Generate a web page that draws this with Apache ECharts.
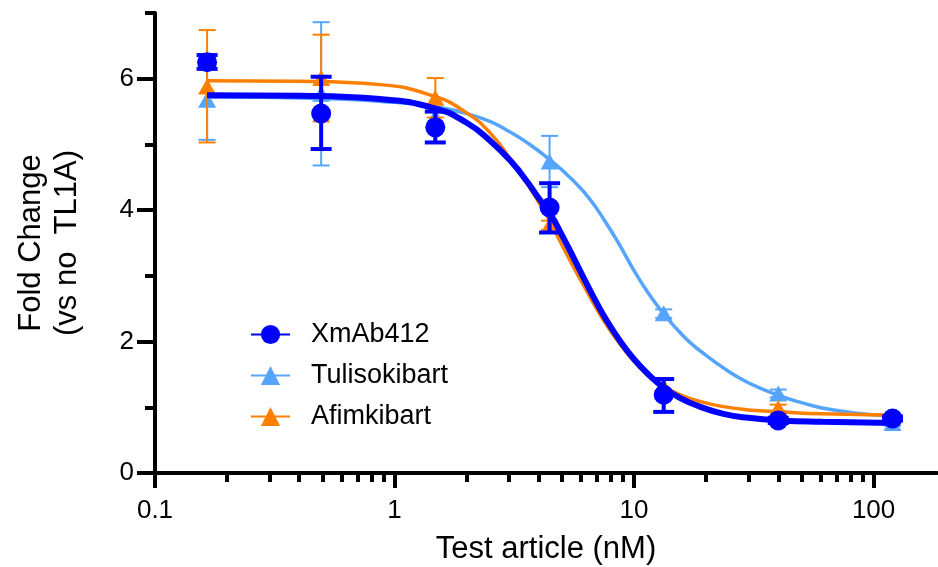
<!DOCTYPE html>
<html>
<head>
<meta charset="utf-8">
<script src="https://cdn.jsdelivr.net/npm/echarts@6/dist/echarts.min.js"></script>
<style>
html,body{margin:0;padding:0;background:#fff;}
#chart{width:938px;height:567px;}
</style>
</head>
<body>
<div id="chart"></div>
<script>
// ---- data ----
const seriesNames = ['XmAb412', 'Tulisokibart', 'Afimkibart'];
const conc = [0.165, 0.494, 1.48, 4.44, 13.3, 40, 120];

const xmabMean = [6.25, 5.47, 5.26, 4.04, 1.19, 0.80, 0.83];
const xmabLow  = [6.15, 4.93, 5.03, 3.66, 0.93, 0.76, 0.80];
const xmabHigh = [6.36, 6.03, 5.50, 4.41, 1.43, 0.84, 0.86];

const tuliMean = [5.68, 5.77, 5.42, 4.74, 2.43, 1.21, 0.76];
const tuliLow  = [5.07, 4.68, 5.32, 4.35, 2.36, 1.15, 0.72];
const tuliHigh = [6.29, 6.86, 5.52, 5.13, 2.49, 1.27, 0.80];

const afimMean = [5.88, 6.01, 5.71, 3.77, 1.32, 0.99, 0.86];
const afimLow  = [5.03, 5.35, 5.41, 3.70, 1.22, 0.94, 0.82];
const afimHigh = [6.74, 6.67, 6.01, 3.84, 1.42, 1.04, 0.90];

// fitted curves
const curveConcA = [0.165, 0.4, 0.87, 1.47, 2.0, 2.5, 3.1, 3.6, 4.0, 4.44, 5.0, 5.6, 6.3, 7.0, 7.6, 8.7, 10, 11.7, 13.3, 15.6, 18.8, 23.6, 30, 40.9, 61, 120];
const xmabCurve = [5.75, 5.74, 5.69, 5.55, 5.33, 5.06, 4.72, 4.42, 4.18, 3.96, 3.62, 3.27, 2.90, 2.58, 2.35, 2.02, 1.73, 1.47, 1.30, 1.14, 1.01, 0.90, 0.84, 0.80, 0.78, 0.76];
const afimCurve = [5.97, 5.96, 5.91, 5.73, 5.48, 5.18, 4.74, 4.39, 4.12, 3.84, 3.47, 3.13, 2.79, 2.49, 2.28, 1.97, 1.70, 1.47, 1.32, 1.19, 1.09, 1.01, 0.96, 0.93, 0.90, 0.88];
const curveConcB = [0.165, 0.5, 1.0, 1.5, 2.0, 2.5, 3.0, 3.6, 4.44, 5.5, 6.5, 7.6, 8.7, 10, 11.5, 13.3, 15, 17.2, 20, 23.6, 28, 32.7, 40.9, 50, 61, 85, 120];
const tuliCurve = [5.72, 5.70, 5.64, 5.57, 5.47, 5.35, 5.20, 5.02, 4.77, 4.47, 4.18, 3.82, 3.47, 3.08, 2.73, 2.42, 2.20, 1.98, 1.79, 1.60, 1.43, 1.31, 1.17, 1.07, 0.99, 0.91, 0.87];

const xMajorTicks = [0.1, 1, 10, 100];
const xMinorTicks = [0.2,0.3,0.4,0.5,0.6,0.7,0.8,0.9, 2,3,4,5,6,7,8,9, 20,30,40,50,60,70,80,90];
const yMajorTicks = [0, 2, 4, 6];
const yMinorTicks = [1, 3, 5, 7];

// ---- chart ----
const FONT = '"Liberation Sans", Arial, Helvetica, sans-serif';
const COLORS = {XmAb412: '#0000FF', Tulisokibart: '#55A5FF', Afimkibart: '#FF8000'};

function zip(xs, ys) { return xs.map((x, i) => [x, ys[i]]); }

function errSeries(id, xs, lows, highs, color, width, cap, z) {
  return {
    type: 'custom', name: id, z: z, silent: true,
    xAxisIndex: 0, yAxisIndex: 0,
    encode: {x: 0, y: [1, 2]},
    data: xs.map((x, i) => [x, lows[i], highs[i]]),
    renderItem: function (params, api) {
      const x = api.value(0);
      const p1 = api.coord([x, api.value(1)]);
      const p2 = api.coord([x, api.value(2)]);
      const st = {stroke: color, lineWidth: width, fill: null};
      return {type: 'group', children: [
        {type: 'line', shape: {x1: p1[0], y1: p1[1], x2: p2[0], y2: p2[1]}, style: st},
        {type: 'line', shape: {x1: p1[0] - cap / 2, y1: p1[1], x2: p1[0] + cap / 2, y2: p1[1]}, style: st},
        {type: 'line', shape: {x1: p2[0] - cap / 2, y1: p2[1], x2: p2[0] + cap / 2, y2: p2[1]}, style: st}
      ]};
    }
  };
}

function curveSeries(name, xs, ys, symbol, width, z) {
  return {
    type: 'line', name: name, z: z, smooth: 0.5,
    data: zip(xs, ys),
    symbol: symbol, showSymbol: false, symbolSize: 20,
    lineStyle: {color: COLORS[name], width: width},
    itemStyle: {color: COLORS[name]},
    emphasis: {disabled: true}, silent: true
  };
}

function pointSeries(name, ys, symbol, size, z) {
  return {
    type: 'scatter', name: name + ' points', z: z,
    data: zip(conc, ys),
    symbol: symbol, symbolSize: size,
    itemStyle: {color: COLORS[name], opacity: 1},
    emphasis: {disabled: true}, silent: true
  };
}

const chart = echarts.init(document.getElementById('chart'), null, {renderer: 'canvas'});
chart.setOption({
  animation: false,
  backgroundColor: '#fff',
  grid: {left: 155, right: 1, top: 13, bottom: 94, containLabel: false, outerBoundsMode: 'none'},
  legend: {
    data: seriesNames,
    orient: 'vertical', left: 250, top: 321, padding: 0,
    itemWidth: 39, itemHeight: 24, itemGap: 14,
    selectedMode: false,
    textStyle: {fontFamily: FONT, fontSize: 27, color: '#000', lineHeight: 27, padding: [0, 0, 0, 16]}
  },
  xAxis: [{
    type: 'log', logBase: 10, min: 0.1, max: 184,
    axisLine: {onZero: false, lineStyle: {color: '#000', width: 4}},
    axisTick: {customValues: xMajorTicks, length: 15, lineStyle: {color: '#000', width: 4}},
    axisLabel: {customValues: xMajorTicks, margin: 25, fontSize: 26, fontFamily: FONT, color: '#000',
      formatter: function (v) { return String(+Number(v).toPrecision(3)); }},
    splitLine: {show: false}, minorTick: {show: false},
    name: 'Test article (nM)', nameLocation: 'middle', nameGap: 61,
    nameTextStyle: {fontFamily: FONT, fontSize: 31, color: '#000'}
  }, {
    type: 'log', logBase: 10, min: 0.1, max: 184, position: 'bottom',
    axisLine: {show: false, onZero: false},
    axisTick: {customValues: xMinorTicks, length: 9, lineStyle: {color: '#000', width: 4}},
    axisLabel: {show: false}, splitLine: {show: false}
  }],
  yAxis: [{
    type: 'value', min: 0, max: 7, position: 'left',
    axisLine: {show: true, onZero: false, lineStyle: {color: '#000', width: 4}},
    axisTick: {show: true, customValues: yMajorTicks, length: 18, lineStyle: {color: '#000', width: 4}},
    axisLabel: {customValues: yMajorTicks, margin: 21, fontSize: 26, fontFamily: FONT, color: '#000'},
    splitLine: {show: false},
    name: 'Fold Change\n(vs no  TL1A)', nameLocation: 'middle', nameRotate: 90, nameGap: 70,
    nameTextStyle: {fontFamily: FONT, fontSize: 31, color: '#000', lineHeight: 36}
  }, {
    type: 'value', min: 0, max: 7, position: 'left', offset: 0,
    axisLine: {show: false, onZero: false},
    axisTick: {show: true, customValues: yMinorTicks, length: 10, lineStyle: {color: '#000', width: 4}},
    axisLabel: {show: false}, splitLine: {show: false}
  }],
  series: [
    curveSeries('XmAb412', curveConcA, xmabCurve, 'circle', 6, 8),
    curveSeries('Tulisokibart', curveConcB, tuliCurve, 'triangle', 3.5, 2),
    curveSeries('Afimkibart', curveConcA, afimCurve, 'triangle', 3.5, 5),
    errSeries('tuli err', conc, tuliLow, tuliHigh, COLORS.Tulisokibart, 2, 17, 3),
    errSeries('afim err', conc, afimLow, afimHigh, COLORS.Afimkibart, 2, 17, 6),
    errSeries('xmab err', conc, xmabLow, xmabHigh, COLORS.XmAb412, 4, 21, 9),
    pointSeries('Tulisokibart', tuliMean, 'triangle', [18, 16], 4),
    pointSeries('Afimkibart', afimMean, 'triangle', [18, 16], 7),
    pointSeries('XmAb412', xmabMean, 'circle', 20, 10)
  ]
});
</script>
</body>
</html>
